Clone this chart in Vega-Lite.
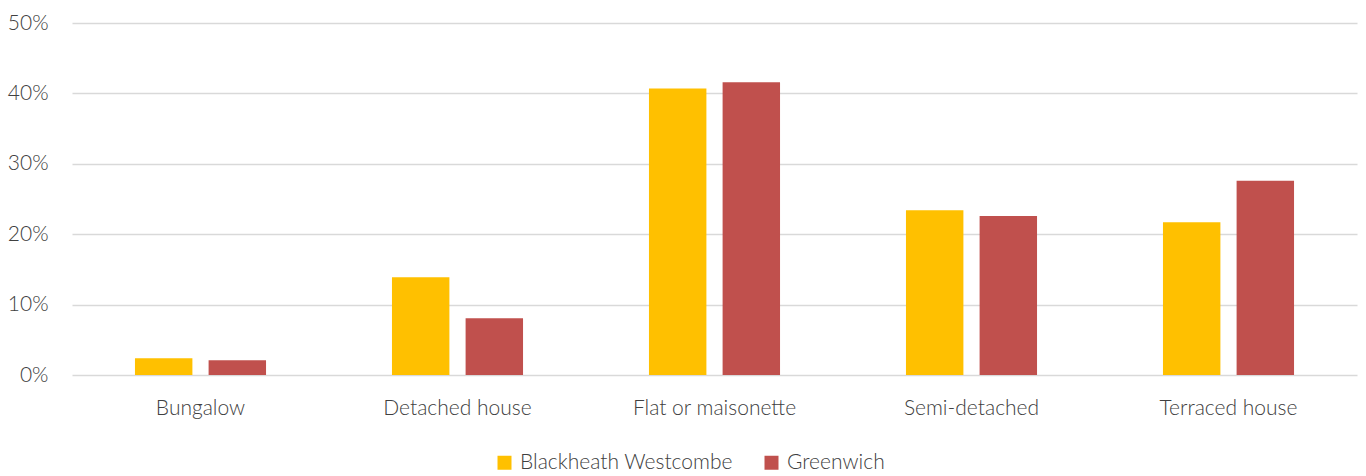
{
  "$schema": "https://vega.github.io/schema/vega-lite/v6.json",
  "width": 1285,
  "height": 352,
  "autosize": {"type": "none"},
  "padding": {"left": 72, "top": 23, "right": 9, "bottom": 101},
  "data": {
    "values": [
      {"type": "Bungalow", "area": "Blackheath Westcombe", "share": 0.0237},
      {"type": "Bungalow", "area": "Greenwich", "share": 0.0209},
      {"type": "Detached house", "area": "Blackheath Westcombe", "share": 0.139},
      {"type": "Detached house", "area": "Greenwich", "share": 0.0805},
      {"type": "Flat or maisonette", "area": "Blackheath Westcombe", "share": 0.407},
      {"type": "Flat or maisonette", "area": "Greenwich", "share": 0.416},
      {"type": "Semi-detached", "area": "Blackheath Westcombe", "share": 0.234},
      {"type": "Semi-detached", "area": "Greenwich", "share": 0.226},
      {"type": "Terraced house", "area": "Blackheath Westcombe", "share": 0.217},
      {"type": "Terraced house", "area": "Greenwich", "share": 0.276}
    ]
  },
  "mark": {"type": "bar"},
  "encoding": {
    "x": {
      "field": "type",
      "type": "nominal",
      "sort": null,
      "title": null,
      "scale": {"paddingInner": 0.49, "paddingOuter": 0.245},
      "axis": {"labelAngle": 0, "domain": false, "ticks": false, "labelPadding": 22}
    },
    "xOffset": {
      "field": "area",
      "type": "nominal",
      "scale": {"paddingInner": 0.22, "paddingOuter": 0}
    },
    "y": {
      "field": "share",
      "type": "quantitative",
      "title": null,
      "scale": {"domain": [0, 0.5], "nice": false},
      "axis": {
        "format": ".0%",
        "values": [0, 0.1, 0.2, 0.3, 0.4, 0.5],
        "domain": false,
        "ticks": false,
        "labelPadding": 24,
        "gridColor": "#d9d9d9",
        "gridWidth": 1.5
      }
    },
    "color": {
      "field": "area",
      "type": "nominal",
      "title": null,
      "scale": {"domain": ["Blackheath Westcombe", "Greenwich"], "range": ["#ffc000", "#c0504d"]},
      "legend": {
        "orient": "none",
        "legendX": 422,
        "legendY": 429,
        "direction": "horizontal",
        "symbolType": "square",
        "symbolSize": 196,
        "symbolStrokeWidth": 0,
        "columnPadding": 28,
        "labelOffset": 5
      }
    }
  },
  "config": {
    "view": {"stroke": null},
    "font": "Lato",
    "axis": {"labelFont": "Lato", "labelFontSize": 21, "labelColor": "#404040", "labelFontWeight": 300},
    "legend": {"labelFont": "Lato", "labelFontSize": 21, "labelColor": "#404040", "labelFontWeight": 300, "labelLimit": 400}
  }
}
